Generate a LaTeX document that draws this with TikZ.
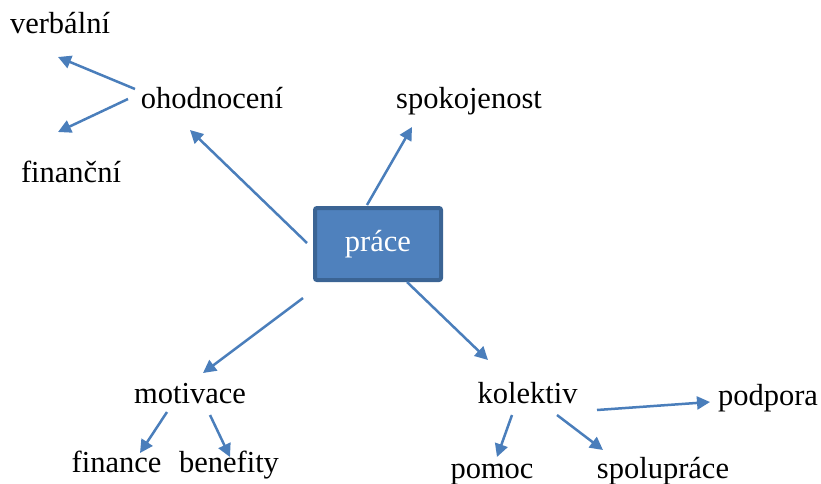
\documentclass[tikz,border=0pt]{standalone}
\usepackage{fontspec}
\setmainfont{Liberation Serif}
\usepackage{xcolor}
\usepackage{tikz}
\usetikzlibrary{arrows.meta}

\definecolor{arrblue}{HTML}{4A7EBB}
\definecolor{boxfill}{HTML}{4F81BD}
\definecolor{boxline}{HTML}{3B6494}

\begin{document}
\begin{tikzpicture}[
  x=1pt, y=-1pt,
  every node/.style={font=\fontsize{30.5}{36}\selectfont, inner sep=0pt},
  word/.style={anchor=base},
  box/.style={rectangle, rounded corners=2pt, draw=boxline, line width=4pt,
              fill=boxfill, text=white, minimum width=126pt, minimum height=72pt},
  arr/.style={-{Triangle[length=13pt,width=13pt]}, draw=arrblue, line width=2.5pt}
]
\useasboundingbox (0,0) rectangle (821,483);
% ── centre ─────────────────────────────────────
\node[box] (prace) at (378,244) {práce};
% ── upper left ─────────────────────────────────
\node[word] (ohod) at (212,108) {ohodnocení};
\node[word] (verb) at (60,33) {verbální};
\node[word] (fin) at (71,182) {finanční};
\draw[arr] ([shift={(-77,-19)}]ohod.base) -- ([shift={(-2,24)}]verb.base);
\draw[arr] ([shift={(-84,-9)}]ohod.base) -- ([shift={(-13,-50)}]fin.base);
\draw[arr] ([shift={(-71,-1)}]prace.center) -- ([shift={(-22,22)}]ohod.base);
% ── upper right ────────────────────────────────
\node[word] (spok) at (469,108) {spokojenost};
\draw[arr] ([shift={(-11,-39)}]prace.center) -- ([shift={(-57,19)}]spok.base);
% ── lower left ─────────────────────────────────
\node[word] (motiv) at (190,403) {motivace};
\node[word] (finance) at (116.5,472) {finance};
\node[word] (benef) at (229,472) {benefity};
\draw[arr] ([shift={(-75,54)}]prace.center) -- ([shift={(13,-30)}]motiv.base);
\draw[arr] ([shift={(-23,9)}]motiv.base) -- ([shift={(23.5,-19)}]finance.base);
\draw[arr] ([shift={(20,12)}]motiv.base) -- ([shift={(1,-15)}]benef.base);
% ── lower right ────────────────────────────────
\node[word] (kol) at (527.5,403) {kolektiv};
\node[word] (podp) at (768,405) {podpora};
\node[word] (pomoc) at (492,478) {pomoc};
\node[word] (spol) at (663,478) {spolupráce};
\draw[arr] ([shift={(29,38)}]prace.center) -- ([shift={(-39.5,-43)}]kol.base);
\draw[arr] ([shift={(69.5,7)}]kol.base) -- ([shift={(-58,-3)}]podp.base);
\draw[arr] ([shift={(-15.5,12)}]kol.base) -- ([shift={(5,-21)}]pomoc.base);
\draw[arr] ([shift={(29.5,12)}]kol.base) -- ([shift={(-60,-28)}]spol.base);
\end{tikzpicture}
\end{document}
